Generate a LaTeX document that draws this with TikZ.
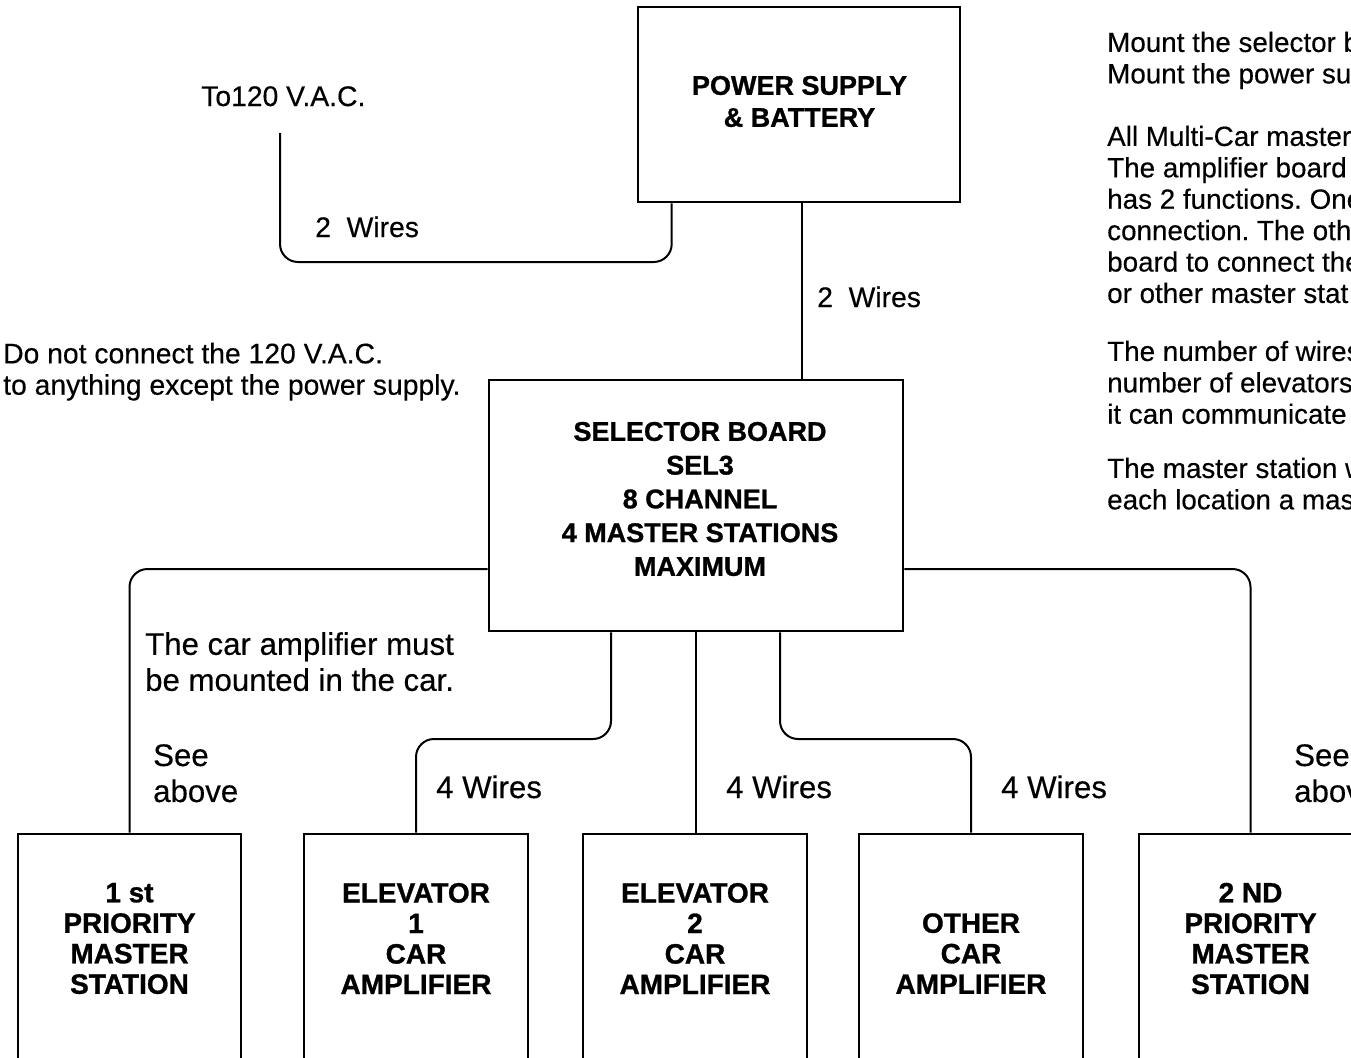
\documentclass[tikz,border=0pt]{standalone}
\usepackage{fontspec}
\setmainfont{Liberation Sans}
\newfontfamily\regfont{Liberation Sans}[FakeBold=0.35]
\newfontfamily\heavyfont{Liberation Sans Bold}[FakeBold=1.0]
\frenchspacing
\begin{document}
\begin{tikzpicture}[x=1pt,y=-1pt,
  box/.style={draw=black, line width=2.6pt, inner sep=0pt},
  wire/.style={draw=black, line width=2pt, rounded corners=18pt},
  note/.style={inner sep=0pt, align=left, font=\regfont\fontsize{28.3}{31.4}\selectfont},
  rnote/.style={inner sep=0pt, align=left, font=\regfont\fontsize{27.8}{31.4}\selectfont},
  bignote/.style={inner sep=0pt, align=left, font=\regfont\fontsize{31.2}{36}\selectfont},
  boxtext/.style={inner sep=0pt, align=center, font=\heavyfont\fontsize{27}{33.75}\selectfont},
  cartext/.style={inner sep=0pt, align=center, font=\heavyfont\fontsize{28}{30.5}\selectfont},
]
\useasboundingbox (0,0) rectangle (1351,1057);
\clip (0,0) rectangle (1351,1057);
\fill[white] (0,0) rectangle (1351,1057);

% boxes
\node[box, minimum width=322pt, minimum height=195pt] (ps) at (799,104.5) {};
\node[box, minimum width=414pt, minimum height=251pt] (sel) at (696,505.5) {};
\node[box, minimum width=223pt, minimum height=266pt] (b1) at (129.5,967) {};
\node[box, minimum width=224pt, minimum height=266pt] (b2) at (416,967) {};
\node[box, minimum width=224pt, minimum height=266pt] (b3) at (695,967) {};
\node[box, minimum width=224pt, minimum height=266pt] (b4) at (971,967) {};
\node[box, minimum width=223pt, minimum height=266pt] (b5) at (1250.5,967) {};

% box texts
\node[boxtext, font=\heavyfont\fontsize{27}{32}\selectfont] (pst) at (799.5,101.5) {POWER SUPPLY\\\& BATTERY};
\node[boxtext] (selt) at (700,499) {SELECTOR BOARD\\SEL3\\8 CHANNEL\\4 MASTER STATIONS\\MAXIMUM};
\node[cartext] (t1) at (129.5,938.5) {1 st\\PRIORITY\\MASTER\\STATION};
\node[cartext] (t2) at (416,938.5) {ELEVATOR\\1\\CAR\\AMPLIFIER};
\node[cartext] (t3) at (695,938.5) {ELEVATOR\\2\\CAR\\AMPLIFIER};
\node[cartext] (t4) at (971,953.5) {OTHER\\CAR\\AMPLIFIER};
\node[cartext] (t5) at (1250.5,938.5) {2 ND\\PRIORITY\\MASTER\\STATION};

% helper coordinates
\coordinate (vac) at (280,133);
\coordinate (h0) at (0,262);
\coordinate (h1) at (0,739);
\coordinate (psL) at ([xshift=35pt]ps.south west);
\coordinate (psM) at ([xshift=3pt]ps.south);

% connectors
\draw[wire] (vac) |- (psL |- h0) -- (psL);
\draw[wire] (psM) -- (psM |- sel.north);
\draw[wire] ([yshift=-63.5pt]sel.west) -| (b1.north);
\draw[wire] ([yshift=-63.5pt]sel.east) -| (b5.north);
\draw[wire] ([xshift=-85pt]sel.south) |- (b2.north |- h1) -- (b2.north);
\draw[wire] (sel.south) -- (sel.south |- b3.north);
\draw[wire] ([xshift=84pt]sel.south) |- (b4.north |- h1) -- (b4.north);

% labels
\node[note, anchor=base west] (lvac) at (201,106) {To120 V.A.C.};
\node[note, anchor=base west] (w2a) at (315,237) {2\ \ Wires};
\node[note, anchor=base west] (w2b) at (817,307) {2\ \ Wires};
\node[note, anchor=north west] (warn) at (3,342.6) {Do not connect the 120 V.A.C.\\to anything except the power supply.};
\node[bignote, anchor=north west] (carnote) at (145,632) {The car amplifier must\\be mounted in the car.};
\node[bignote, anchor=north west] (seeL) at (153,744) {See\\above};
\node[bignote, anchor=north west] (seeR) at (1294,744) {See\\abov};
\node[bignote, anchor=base west] (w4a) at (436,798) {4 Wires};
\node[bignote, anchor=base west] (w4b) at (726,798) {4 Wires};
\node[bignote, anchor=base west] (w4c) at (1001,798) {4 Wires};

% right-hand notes
\node[rnote, anchor=north west] (r1) at (1107,31.6) {Mount the selector b\\Mount the power su};
\node[rnote, anchor=north west] (r2) at (1107,125.6) {All Multi-Car master\\The amplifier board\\has 2 functions. One\\connection. The othe\\board to connect the\\or other master stat};
\node[rnote, anchor=north west] (r3) at (1107,340.6) {The number of wires\\number of elevators\\it can communicate};
\node[rnote, anchor=north west] (r4) at (1107,457.6) {The master station w\\each location a mas};
\end{tikzpicture}
\end{document}
